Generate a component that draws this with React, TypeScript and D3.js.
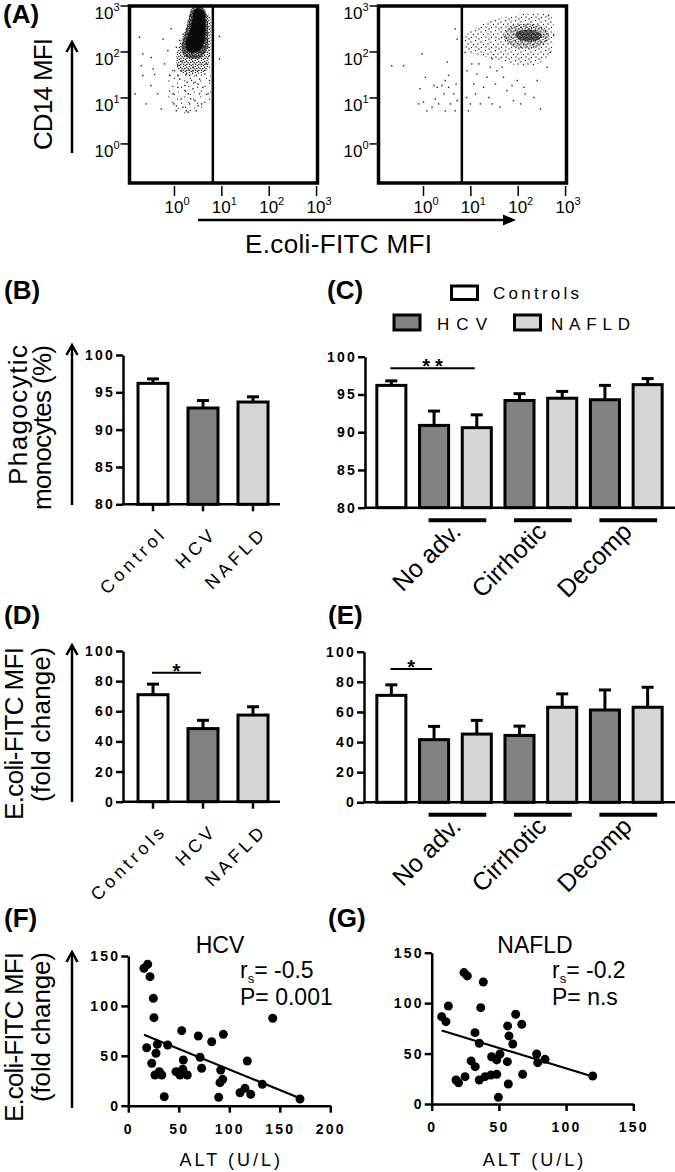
import { useEffect, useRef } from 'react'
import * as d3 from 'd3'

const FONT = '"Liberation Sans", Arial, Helvetica, sans-serif'

// ---- (A) flow cytometry dot plots, values in log10(MFI) ----
const flowTicks = [0, 1, 2, 3]
const gateLog = 0.81
const leftCore = [[0.42, 2.92], [0.53, 2.95], [0.62, 2.88], [0.65, 2.68], [0.65, 2.39], [0.61, 2.16], [0.52, 2.02], [0.4, 1.99], [0.29, 2.02], [0.24, 2.12], [0.26, 2.3], [0.33, 2.48], [0.38, 2.7]]
const leftRing = [[0.37, 2.95], [0.6, 2.97], [0.68, 2.8], [0.71, 2.4], [0.68, 2.05], [0.55, 1.88], [0.35, 1.86], [0.2, 1.93], [0.15, 2.12], [0.22, 2.4], [0.3, 2.7]]
const leftHalo = [[0.32, 2.83], [0.71, 2.83], [0.76, 2.32], [0.74, 1.88], [0.67, 1.59], [0.43, 1.52], [0.14, 1.56], [0.04, 1.74], [0.06, 2.03], [0.14, 2.25], [0.25, 2.54]]
const leftFan = [[-0.07, 1.59], [0.78, 1.67], [0.78, 0.87], [0.53, 0.69], [0.14, 0.65], [-0.1, 0.87], [-0.14, 1.3]]
const leftEvents = [
  [-0.74, 2.32], [-0.67, 1.96], [-0.7, 1.7], [-0.67, 1.49], [-0.49, 1.88], [-0.45, 1.63], [-0.42, 1.51], [-0.5, 1.27],
  [-0.35, 1.09], [-0.28, 0.76], [-0.24, 2.28], [-0.21, 1.74], [-0.14, 2.03], [-0.1, 1.49], [-0.07, 2.5], [-0.03, 1.09],
  [-0.01, 0.87], [0.04, 0.72], [0.07, 1.23], [0.11, 1.41], [0.14, 0.98], [0.18, 0.8], [0.22, 1.27], [0.25, 0.72],
  [0.29, 1.09], [0.32, 0.87], [0.36, 1.38], [0.39, 1.2], [0.43, 0.94], [0.46, 0.72], [0.5, 1.3], [0.53, 1.09],
  [0.57, 0.87], [0.6, 1.23], [0.64, 1.52], [0.71, 1.09], [0.74, 1.92], [0.74, 1.38], [0.0, 1.59], [0.07, 1.49],
  [0.14, 1.59], [0.25, 1.52], [0.32, 1.49], [0.39, 1.59], [0.46, 1.49], [0.53, 1.41], [0.22, 1.16], [0.34, 0.98],
  [0.27, 1.34], [0.43, 1.34], [0.07, 1.7], [0.16, 1.8], [0.67, 1.74], [0.71, 2.1], [0.04, 2.1], [0.11, 2.25],
  [0.18, 2.39], [0.95, 2.34], [0.95, 1.85], [-0.83, 1.09], [-0.6, 0.87], [0.5, 0.83], [0.29, 0.69], [0.04, 0.83],
]
const rightCore = [[1.8, 2.54], [2.12, 2.61], [2.47, 2.57], [2.64, 2.43], [2.61, 2.21], [2.4, 2.1], [2.12, 2.07], [1.83, 2.14], [1.69, 2.32]]
const rightInner = [[1.95, 2.42], [2.3, 2.48], [2.5, 2.36], [2.38, 2.24], [2.02, 2.27]]
const rightHalo = [[1.06, 2.5], [1.55, 2.72], [2.19, 2.83], [2.68, 2.79], [2.75, 2.39], [2.68, 1.96], [2.33, 1.7], [1.83, 1.74], [1.34, 1.88], [0.92, 2.03], [0.88, 2.32]]
const rightEvents = [
  [-0.67, 1.7], [-0.42, 1.7], [-0.03, 1.96], [-0.07, 1.2], [-0.1, 0.87], [0.0, 0.91], [0.18, 0.8], [0.22, 1.27],
  [0.29, 1.23], [0.39, 1.27], [0.43, 1.09], [0.46, 1.38], [0.5, 1.78], [0.46, 0.72], [0.53, 1.49], [0.57, 0.87],
  [0.67, 2.5], [0.71, 2.28], [0.69, 1.3], [0.67, 0.72], [0.71, 0.94], [0.53, 1.23], [0.64, 1.09], [0.25, 0.98],
  [0.07, 0.72], [0.32, 0.87], [0.04, 1.45], [0.88, 1.99], [0.92, 1.59], [0.91, 1.01], [0.95, 0.72], [0.99, 0.87],
  [1.06, 1.3], [1.1, 1.09], [1.13, 1.52], [1.17, 1.74], [1.2, 0.87], [1.27, 1.23], [1.34, 1.45], [1.38, 1.01],
  [1.41, 1.67], [1.45, 0.87], [1.52, 1.3], [1.55, 1.59], [1.62, 0.8], [1.69, 1.45], [1.76, 1.16], [1.87, 1.27],
  [1.9, 0.94], [1.98, 1.38], [2.05, 0.87], [2.12, 1.23], [2.15, 1.09], [2.33, 1.01], [2.4, 1.38], [2.47, 0.76],
  [2.61, 1.67], [2.68, 1.99], [2.75, 2.36], [2.64, 2.79], [1.45, 1.85], [1.66, 1.67], [1.02, 1.74],
]

// ---- (B)-(E) bar charts ----
const groupCats = ['Control', 'HCV', 'NAFLD']
const groupCatsD = ['Controls', 'HCV', 'NAFLD']
const groupKind = ['ctrl', 'hcv', 'nafld']
const stageKind = ['ctrl', 'hcv', 'nafld', 'hcv', 'nafld', 'hcv', 'nafld']
const stageGroups = ['No adv.', 'Cirrhotic', 'Decomp']
const phagoMean = [96.2, 92.9, 93.7]
const phagoSem = [0.6, 1.0, 0.7]
const phagoStageMean = [96.2, 90.9, 90.6, 94.2, 94.5, 94.3, 96.3]
const phagoStageSem = [0.6, 1.9, 1.7, 0.9, 0.9, 1.9, 0.8]
const fitcMean = [71, 48.5, 57.5]
const fitcSem = [7, 5.5, 5.5]
const fitcStageMean = [71, 41.6, 45.3, 44.4, 63.1, 61.3, 63.1]
const fitcStageSem = [7, 8.8, 9.1, 6.2, 8.9, 13.3, 13.3]
const phagoTicks = [80, 85, 90, 95, 100]
const fitcTicks = [0, 20, 40, 60, 80, 100]

// ---- (F), (G) correlations ----
const hcvAlt = [15.5, 19.2, 21.5, 24.8, 25.4, 18.2, 23.2, 27.4, 28.7, 26.4, 30.7, 33.1, 39, 35.6, 52.9, 54.5, 47.2, 51.2, 53.9, 58.4, 69.3, 71, 72.6, 82.6, 94.1, 91.5, 93.5, 90.8, 89.5, 110.6, 115.5, 121.2, 117.8, 132.7, 143, 170]
const hcvFitc = [137.7, 141.7, 129.3, 107.6, 88.2, 58.1, 42.5, 52.5, 61.5, 30.8, 34.1, 30.8, 60.8, 9, 75.2, 45.8, 34.1, 30.8, 36.5, 30.8, 69.8, 48.5, 37.5, 64.1, 71.5, 35.8, 26.4, 23.1, 8.4, 13, 17.4, 11.4, 44.8, 21.4, 87.6, 6.7]
const nafldAlt = [7.4, 10.6, 12.4, 24, 26.5, 38.4, 36.5, 32.2, 35.4, 29.3, 32.4, 18.1, 20, 24.8, 35.4, 39.7, 44.1, 48.4, 44.6, 48.4, 50.8, 56.3, 49.6, 57, 56.5, 57.5, 60.3, 62.5, 67, 67.7, 78.1, 78.9, 84.3, 119.8]
const nafldFitc = [86.6, 81.6, 97.2, 130.3, 127, 121, 95.5, 70.7, 60.2, 42.7, 37, 23.8, 21, 27.1, 23.8, 27.1, 28.8, 29.4, 46.9, 43.7, 49.6, 42, 6.6, 19.8, 77.4, 67.5, 59.5, 89, 79, 29.4, 49.6, 41, 44.3, 27.8]
const hcvFit = { slope: -0.413, intercept: 77.6 }
const nafldFit = { slope: -0.406, intercept: 75.9 }
const corrTicksY = [0, 50, 100, 150]
const hcvTicksX = [0, 50, 100, 150, 200]
const nafldTicksX = [0, 50, 100, 150]

const fills: Record<string, string> = { ctrl: '#ffffff', hcv: '#828282', nafld: '#d6d6d6' }
const tileDots = [[0.1, 0.2], [0.55, 0.05], [0.35, 0.45], [0.8, 0.4], [0.15, 0.75], [0.6, 0.7], [0.9, 0.9]]

function styleAxis(ax) {
  ax.attr('font-family', FONT).attr('font-size', 14).attr('font-weight', 'bold')
  ax.select('.domain').attr('stroke-width', 2.5)
  ax.selectAll('.tick line').attr('stroke-width', 2.5)
  ax.selectAll('text').attr('letter-spacing', 2.2).attr('fill', '#000')
}

function arrowUp(svg, x, yBot, yTop) {
  svg.append('line').attr('x1', x).attr('x2', x).attr('y1', yBot).attr('y2', yTop + 1)
    .attr('stroke', '#000').attr('stroke-width', 2.5)
  svg.append('path').attr('d', `M${x - 5.5},${yTop + 10}L${x},${yTop}L${x + 5.5},${yTop + 10}`)
    .attr('fill', 'none').attr('stroke', '#000').attr('stroke-width', 2.5)
}

// rotated axis titles, top-aligned; lens = measured run length of each line
function yTitle(svg, lines, xs, yTop, lens) {
  lines.forEach((t, i) => {
    svg.append('text').attr('transform', `translate(${xs[i]},${yTop}) rotate(-90)`)
      .attr('text-anchor', 'end').attr('font-size', 26)
      .attr('textLength', lens[i]).attr('lengthAdjust', 'spacing').text(t)
  })
}

function panelLabel(svg, t, x, y) {
  svg.append('text').attr('x', x).attr('y', y).attr('font-size', 26).attr('font-weight', 'bold').text(t)
}

function drawFlow(svg, id, x0, polys, events) {
  const w = 188, y0 = 6, h = 177
  const x = d3.scaleLinear().domain([-0.95, 3.02]).range([x0, x0 + w])
  const y = d3.scaleLinear().domain([-0.85, 3]).range([y0 + h, y0])
  svg.append('clipPath').attr('id', id).append('rect').attr('x', x0).attr('y', y0).attr('width', w).attr('height', h)
  const g = svg.append('g').attr('clip-path', `url(#${id})`)
  const blob = d3.line().x((d) => x(d[0])).y((d) => y(d[1])).curve(d3.curveCatmullRomClosed)
  polys.forEach((p) => g.append('path').attr('d', blob(p.pts)).attr('fill', p.fill))
  g.selectAll('rect.ev').data(events).join('rect').attr('class', 'ev')
    .attr('x', (d) => x(d[0]) - 0.7).attr('y', (d) => y(d[1]) - 0.7)
    .attr('width', 1.4).attr('height', 1.4).attr('fill', '#222')

  svg.append('rect').attr('x', x0).attr('y', y0).attr('width', w).attr('height', h)
    .attr('fill', 'none').attr('stroke', '#000').attr('stroke-width', 3.5)
  svg.append('line').attr('x1', x(gateLog)).attr('x2', x(gateLog)).attr('y1', y0).attr('y2', y0 + h)
    .attr('stroke', '#000').attr('stroke-width', 2.5)

  flowTicks.forEach((v) => {
    svg.append('line').attr('x1', x0 - 9).attr('x2', x0).attr('y1', y(v)).attr('y2', y(v))
      .attr('stroke', '#000').attr('stroke-width', 1.5)
    const ty = svg.append('text').attr('x', x0 - 10).attr('y', y(v) + 13).attr('text-anchor', 'end').attr('font-size', 17)
    ty.append('tspan').text('10')
    ty.append('tspan').attr('font-size', 11).attr('dy', -8).text(String(v))
    svg.append('line').attr('x1', x(v)).attr('x2', x(v)).attr('y1', y0 + h + 3).attr('y2', y0 + h + 13)
      .attr('stroke', '#000').attr('stroke-width', 1.5)
    const tx = svg.append('text').attr('x', x(v) - 10).attr('y', 213).attr('font-size', 17)
    tx.append('tspan').text('10')
    tx.append('tspan').attr('font-size', 11).attr('dy', -8).text(String(v))
  })
}

function drawBars(svg, o) {
  const xb = d3.scaleBand().domain(d3.range(o.means.length)).range(o.xRange)
    .paddingInner(o.padInner).paddingOuter(o.padOuter)
  const y = d3.scaleLinear().domain(o.yDomain).range(o.yRange)
  const bw = xb.bandwidth()
  const base = y(o.yDomain[0])
  const cx = (i) => xb(i) + bw / 2

  o.means.forEach((m, i) => {
    const top = y(m + o.sems[i])
    svg.append('line').attr('x1', cx(i)).attr('x2', cx(i)).attr('y1', y(m)).attr('y2', top)
      .attr('stroke', '#000').attr('stroke-width', 3)
    svg.append('line').attr('x1', cx(i) - 6).attr('x2', cx(i) + 6).attr('y1', top).attr('y2', top)
      .attr('stroke', '#000').attr('stroke-width', 3)
  })
  svg.selectAll(null).data(o.means).join('rect')
    .attr('x', (d, i) => xb(i)).attr('width', bw)
    .attr('y', (d) => y(d)).attr('height', (d) => base - y(d))
    .attr('fill', (d, i) => fills[o.kinds[i]]).attr('stroke', '#000').attr('stroke-width', 3)

  svg.append('line').attr('x1', o.axisX).attr('x2', o.axisEnd).attr('y1', base).attr('y2', base)
    .attr('stroke', '#000').attr('stroke-width', 2.5)
  if (o.xTicks) {
    o.means.forEach((m, i) => {
      svg.append('line').attr('x1', cx(i)).attr('x2', cx(i)).attr('y1', base).attr('y2', base + 7)
        .attr('stroke', '#000').attr('stroke-width', 2.5)
    })
  }
  svg.append('g').attr('transform', `translate(${o.axisX},0)`)
    .call(d3.axisLeft(y).tickValues(o.yTicks).tickSize(7).tickSizeOuter(0).tickPadding(1))
    .call(styleAxis)

  if (o.sig) {
    const s = o.sig
    const x1 = cx(s.from) - 1, x2 = cx(s.to) - 2
    svg.append('line').attr('x1', x1).attr('x2', x2).attr('y1', y(s.y)).attr('y2', y(s.y))
      .attr('stroke', '#000').attr('stroke-width', 2)
    svg.append('text').attr('x', (x1 + x2) / 2 + (s.label.length > 1 ? 2.5 : 0)).attr('y', y(s.y) + 5)
      .attr('text-anchor', 'middle').attr('font-size', 20).attr('font-weight', 'bold')
      .attr('letter-spacing', s.label.length > 1 ? 5 : 0).text(s.label)
  }
  return { cx, bw, xb, base }
}

function catLabels(svg, cats, r) {
  cats.forEach((c, i) => {
    svg.append('text').attr('transform', `translate(${r.cx(i) + 15},${r.base + 30}) rotate(-45)`)
      .attr('text-anchor', 'end').attr('font-size', 18).attr('letter-spacing', 4).text(c)
  })
}

function groupLabels(svg, r) {
  stageGroups.forEach((gname, k) => {
    const a = 1 + k * 2, b = a + 1
    const x1 = r.xb(a) + 9, x2 = r.xb(b) + r.bw - 5
    const ly = r.base + 12.5
    svg.append('line').attr('x1', x1).attr('x2', x2).attr('y1', ly).attr('y2', ly)
      .attr('stroke', '#000').attr('stroke-width', 4)
    svg.append('text').attr('transform', `translate(${(x1 + x2) / 2 + 5},${ly + 13}) rotate(-45)`)
      .attr('text-anchor', 'end').attr('font-size', 25).text(gname)
  })
}

function drawScatter(svg, o) {
  const x = d3.scaleLinear().domain(o.xDomain).range(o.xRange)
  const y = d3.scaleLinear().domain([0, 150]).range(o.yRange)
  const lo = d3.min(o.xs), hi = d3.max(o.xs)
  svg.append('line').attr('x1', x(lo)).attr('x2', x(hi))
    .attr('y1', y(o.fit.intercept + o.fit.slope * lo)).attr('y2', y(o.fit.intercept + o.fit.slope * hi))
    .attr('stroke', '#000').attr('stroke-width', 2.2)
  svg.selectAll(null).data(o.xs).join('circle')
    .attr('cx', (d) => x(d)).attr('cy', (d, i) => y(o.ys[i])).attr('r', 4.5).attr('fill', '#000')

  svg.append('g').attr('transform', `translate(0,${y(0)})`)
    .call(d3.axisBottom(x).tickValues(o.xTicks).tickSize(7).tickSizeOuter(0).tickPadding(11))
    .call(styleAxis)
  svg.append('g').attr('transform', `translate(${x(0)},0)`)
    .call(d3.axisLeft(y).tickValues(corrTicksY).tickSize(7).tickSizeOuter(0).tickPadding(1))
    .call(styleAxis)
  svg.append('text').attr('x', x(o.xDomain[1] / 2) + 2).attr('y', 1166).attr('text-anchor', 'middle')
    .attr('font-size', 18).attr('letter-spacing', 3).text('ALT (U/L)')

  svg.append('text').attr('x', o.titleX).attr('y', 953).attr('text-anchor', 'middle').attr('font-size', 23).text(o.title)
  const rs = svg.append('text').attr('x', o.statX).attr('y', 978).attr('font-size', 23)
  rs.append('tspan').text('r')
  rs.append('tspan').attr('font-size', 13).attr('dy', 5).text('s')
  rs.append('tspan').attr('dy', -5).text(`= ${o.r}`)
  svg.append('text').attr('x', o.statX).attr('y', 1005).attr('font-size', 23).text(`P= ${o.p}`)
}

export default function App() {
  const svgRef = useRef(null)

  useEffect(() => {
    const svg = d3.select(svgRef.current)
    svg.selectAll('*').remove()
    svg.append('rect').attr('width', 675).attr('height', 1172).attr('fill', '#fff')
    const defs = svg.append('defs')
    const pattern = (id, tile, r) => {
      const p = defs.append('pattern').attr('id', id).attr('patternUnits', 'userSpaceOnUse')
        .attr('width', tile).attr('height', tile)
      tileDots.forEach((d) => p.append('circle').attr('cx', d[0] * tile).attr('cy', d[1] * tile).attr('r', r).attr('fill', '#111'))
    }
    pattern('fcsInner', 4.5, 0.85)
    pattern('fcsDense', 6, 0.75)
    pattern('fcsCore', 6.5, 0.75)
    pattern('fcsMid', 10, 0.65)
    pattern('fcsSparse', 16, 0.6)

    // (A)
    panelLabel(svg, '(A)', 3, 23)
    drawFlow(svg, 'clipL', 129.5, [
      { pts: leftFan, fill: 'url(#fcsSparse)' },
      { pts: leftHalo, fill: 'url(#fcsDense)' },
      { pts: leftRing, fill: 'url(#fcsInner)' },
      { pts: leftCore, fill: '#0a0a0a' },
    ], leftEvents)
    drawFlow(svg, 'clipR', 378.5, [
      { pts: rightHalo, fill: 'url(#fcsMid)' },
      { pts: rightCore, fill: 'url(#fcsCore)' },
      { pts: rightInner, fill: 'url(#fcsInner)' },
    ], rightEvents)
    arrowUp(svg, 72, 153, 42)
    yTitle(svg, ['CD14 MFI'], [52], 38, [112])
    svg.append('line').attr('x1', 198).attr('x2', 504).attr('y1', 220).attr('y2', 220).attr('stroke', '#000').attr('stroke-width', 2.5)
    svg.append('path').attr('d', 'M503,214.5L516,220L503,225.5Z').attr('fill', '#000')
    svg.append('text').attr('x', 245).attr('y', 253).attr('font-size', 26)
      .attr('textLength', 187).attr('lengthAdjust', 'spacing').text('E.coli-FITC MFI')

    // (B)
    panelLabel(svg, '(B)', 4, 299)
    arrowUp(svg, 72, 505, 345)
    yTitle(svg, ['Phagocytic', 'monocytes (%)'], [27, 51], 345, [140, 165])
    const rB = drawBars(svg, {
      means: phagoMean, sems: phagoSem, kinds: groupKind,
      xRange: [128, 278], padInner: 0.4, padOuter: 0.2,
      yDomain: [80, 100], yRange: [504.3, 355], yTicks: phagoTicks,
      axisX: 123, axisEnd: 280, xTicks: true,
    })
    catLabels(svg, groupCats, rB)

    // (C)
    panelLabel(svg, '(C)', 327, 299)
    const rC = drawBars(svg, {
      means: phagoStageMean, sems: phagoStageSem, kinds: stageKind,
      xRange: [370, 669], padInner: 0.32, padOuter: 0.16,
      yDomain: [80, 100], yRange: [507.7, 356.7], yTicks: phagoTicks,
      axisX: 365, axisEnd: 675, xTicks: false,
      sig: { from: 0, to: 2, y: 98.46, label: '**' },
    })
    groupLabels(svg, rC)

    // legend
    const legend = [
      { kind: 'ctrl', label: 'Controls', x: 451.5, y: 286, tx: 493, ty: 298.5, len: 86 },
      { kind: 'hcv', label: 'HCV', x: 394, y: 315, tx: 437, ty: 329.5, len: 50 },
      { kind: 'nafld', label: 'NAFLD', x: 514.5, y: 315, tx: 551, ty: 329.5, len: 79 },
    ]
    legend.forEach((l) => {
      svg.append('rect').attr('x', l.x).attr('y', l.y).attr('width', 26).attr('height', l.kind === 'ctrl' ? 13.5 : 15)
        .attr('fill', fills[l.kind]).attr('stroke', '#000').attr('stroke-width', 3)
      svg.append('text').attr('x', l.tx).attr('y', l.ty).attr('font-size', 17)
        .attr('textLength', l.len).attr('lengthAdjust', 'spacing').text(l.label)
    })

    // (D)
    panelLabel(svg, '(D)', 4, 624)
    arrowUp(svg, 72, 802, 645)
    yTitle(svg, ['E.coli-FITC MFI', '(fold change)'], [23, 50], 647, [173, 155])
    const rD = drawBars(svg, {
      means: fitcMean, sems: fitcSem, kinds: groupKind,
      xRange: [128, 278], padInner: 0.4, padOuter: 0.2,
      yDomain: [0, 100], yRange: [801.7, 651], yTicks: fitcTicks,
      axisX: 123, axisEnd: 280, xTicks: true,
      sig: { from: 0, to: 1, y: 85.6, label: '*' },
    })
    catLabels(svg, groupCatsD, rD)

    // (E)
    panelLabel(svg, '(E)', 328, 624)
    const rE = drawBars(svg, {
      means: fitcStageMean, sems: fitcStageSem, kinds: stageKind,
      xRange: [370, 669], padInner: 0.32, padOuter: 0.16,
      yDomain: [0, 100], yRange: [802.3, 651.7], yTicks: fitcTicks,
      axisX: 364, axisEnd: 675, xTicks: false,
      sig: { from: 0, to: 1, y: 88.5, label: '*' },
    })
    groupLabels(svg, rE)

    // (F)
    panelLabel(svg, '(F)', 4, 927)
    arrowUp(svg, 72, 1108, 952)
    yTitle(svg, ['E.coli-FITC MFI', '(fold change)'], [23, 50], 952, [170, 150])
    drawScatter(svg, {
      xs: hcvAlt, ys: hcvFitc, fit: hcvFit, xDomain: [0, 200], xRange: [128.3, 330.3],
      yRange: [1105.7, 956], xTicks: hcvTicksX, title: 'HCV', titleX: 220, statX: 240, r: '-0.5', p: '0.001',
    })

    // (G)
    panelLabel(svg, '(G)', 328, 927)
    drawScatter(svg, {
      xs: nafldAlt, ys: nafldFitc, fit: nafldFit, xDomain: [0, 150], xRange: [431.7, 633.3],
      yRange: [1104, 952.7], xTicks: nafldTicksX, title: 'NAFLD', titleX: 535, statX: 552, r: '-0.2', p: 'n.s',
    })
  }, [])

  return (
    <svg ref={svgRef} width={675} height={1172} fontFamily={FONT}
      style={{ position: 'absolute', left: 0, top: 0, display: 'block' }} />
  )
}
